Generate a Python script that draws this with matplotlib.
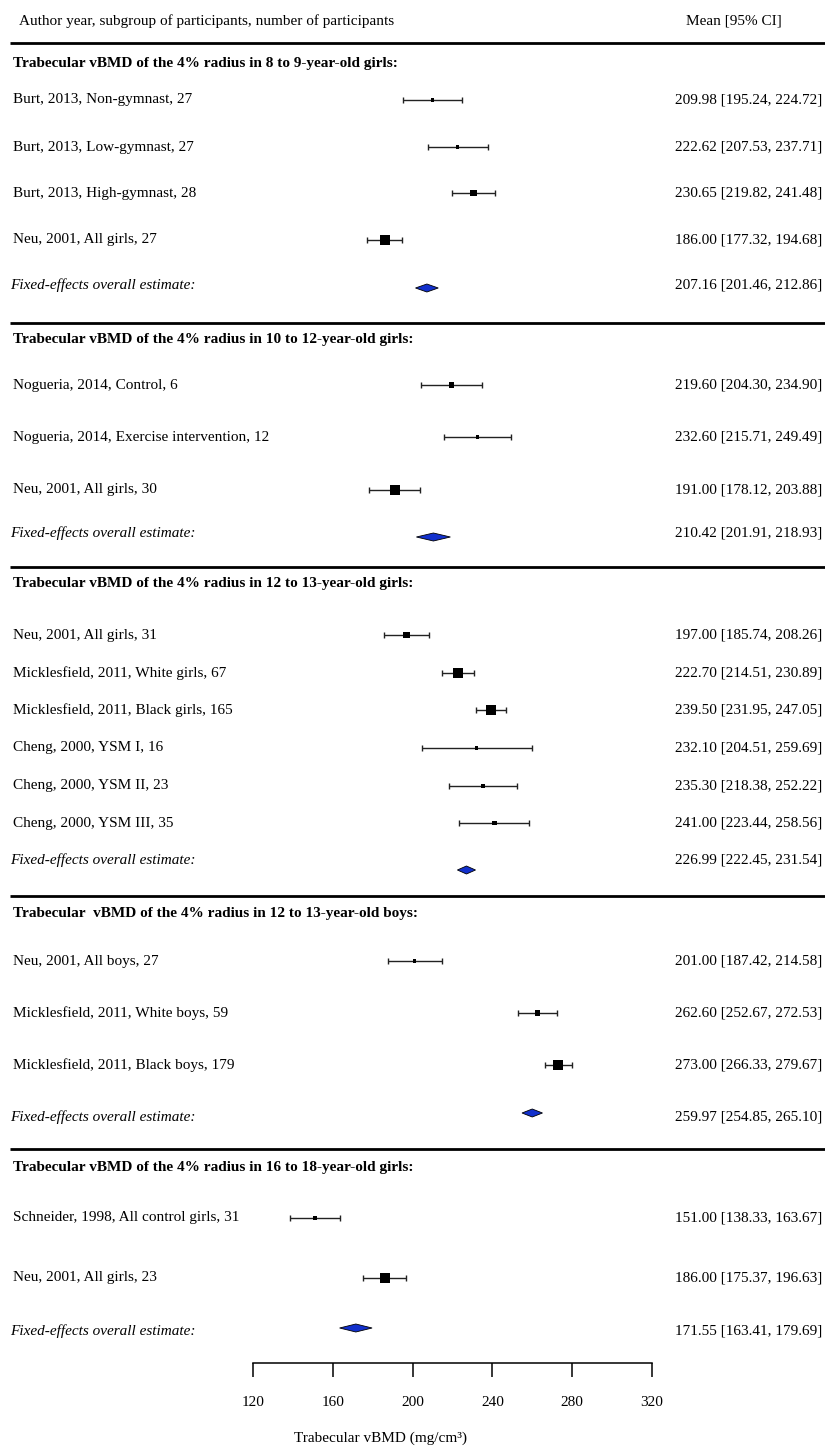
import matplotlib
matplotlib.use("Agg")
import numpy as np
import matplotlib.pyplot as plt
from matplotlib.transforms import blended_transform_factory

plt.rcParams['font.family'] = ['Liberation Serif', 'DejaVu Serif']

# --- data (mean, lower and upper 95% CI, per section) ---
s1_title = "Trabecular vBMD of the 4% radius in 8 to 9-year-old girls:"
s1_labels = ["Burt, 2013, Non-gymnast, 27", "Burt, 2013, Low-gymnast, 27",
             "Burt, 2013, High-gymnast, 28", "Neu, 2001, All girls, 27"]
s1_mean = [209.98, 222.62, 230.65, 186.00]
s1_lower = [195.24, 207.53, 219.82, 177.32]
s1_upper = [224.72, 237.71, 241.48, 194.68]
s1_pooled = [207.16, 201.46, 212.86]

s2_title = "Trabecular vBMD of the 4% radius in 10 to 12-year-old girls:"
s2_labels = ["Nogueria, 2014, Control, 6", "Nogueria, 2014, Exercise intervention, 12",
             "Neu, 2001, All girls, 30"]
s2_mean = [219.60, 232.60, 191.00]
s2_lower = [204.30, 215.71, 178.12]
s2_upper = [234.90, 249.49, 203.88]
s2_pooled = [210.42, 201.91, 218.93]

s3_title = "Trabecular vBMD of the 4% radius in 12 to 13-year-old girls:"
s3_labels = ["Neu, 2001, All girls, 31", "Micklesfield, 2011, White girls, 67",
             "Micklesfield, 2011, Black girls, 165", "Cheng, 2000, YSM I, 16",
             "Cheng, 2000, YSM II, 23", "Cheng, 2000, YSM III, 35"]
s3_mean = [197.00, 222.70, 239.50, 232.10, 235.30, 241.00]
s3_lower = [185.74, 214.51, 231.95, 204.51, 218.38, 223.44]
s3_upper = [208.26, 230.89, 247.05, 259.69, 252.22, 258.56]
s3_pooled = [226.99, 222.45, 231.54]

s4_title = "Trabecular  vBMD of the 4% radius in 12 to 13-year-old boys:"
s4_labels = ["Neu, 2001, All boys, 27", "Micklesfield, 2011, White boys, 59",
             "Micklesfield, 2011, Black boys, 179"]
s4_mean = [201.00, 262.60, 273.00]
s4_lower = [187.42, 252.67, 266.33]
s4_upper = [214.58, 272.53, 279.67]
s4_pooled = [259.97, 254.85, 265.10]

s5_title = "Trabecular vBMD of the 4% radius in 16 to 18-year-old girls:"
s5_labels = ["Schneider, 1998, All control girls, 31", "Neu, 2001, All girls, 23"]
s5_mean = [151.00, 186.00]
s5_lower = [138.33, 175.37]
s5_upper = [163.67, 196.63]
s5_pooled = [171.55, 163.41, 179.69]

x_ticks = [120, 160, 200, 240, 280, 320]

sections = [
    (s1_title, s1_labels, s1_mean, s1_lower, s1_upper, s1_pooled),
    (s2_title, s2_labels, s2_mean, s2_lower, s2_upper, s2_pooled),
    (s3_title, s3_labels, s3_mean, s3_lower, s3_upper, s3_pooled),
    (s4_title, s4_labels, s4_mean, s4_lower, s4_upper, s4_pooled),
    (s5_title, s5_labels, s5_mean, s5_lower, s5_upper, s5_pooled),
]

# layout in pixel rows: title, study rows, summary text, diamond
layout = [
    (63, [100, 147, 193, 240], 285, 288),
    (339, [385, 437, 490], 533, 537),
    (583, [635, 673, 710, 748, 786, 823], 860, 870),
    (914, [961, 1013, 1065], 1117, 1113),
    (1168, [1218, 1278], 1331, 1328),
]
separators = [43, 323, 567, 896, 1149]
FS = 11

W, H = 825, 1447
fig = plt.figure(figsize=(W / 100, H / 100), dpi=100)
ax = fig.add_axes([0, 0, 1, 1])
k = (652 - 253) / (x_ticks[-1] - x_ticks[0])
ax.set_xlim(x_ticks[0] - 253 / k, x_ticks[0] + (W - 253) / k)
ax.set_ylim(H, 0)

tr = blended_transform_factory(ax.transAxes, ax.transData)


def put(xpx, y, s, **kw):
    ax.text(xpx / W, y, s, transform=tr, va='center', fontsize=FS, **kw)


put(19, 21, "Author year, subgroup of participants, number of participants")
put(782, 21, "Mean [95% CI]", ha='right')

for y in separators:
    ax.plot([10 / W, 1], [y, y], transform=tr, color='black', lw=2.0,
            solid_capstyle='butt')

for (title, labels, mean, lower, upper, pooled), (ty, rows, fy, dy) in zip(sections, layout):
    mean = np.array(mean)
    lower = np.array(lower)
    upper = np.array(upper)
    put(13, ty, title, fontweight='bold')
    for lab, m, lo, hi, y in zip(labels, mean, lower, upper, rows):
        put(13, y, lab)
        put(822, y, f"{m:.2f} [{lo:.2f}, {hi:.2f}]", ha='right')
    ax.errorbar(mean, rows, xerr=[mean - lower, upper - mean], fmt='none',
                ecolor='#222222', elinewidth=1.0, capsize=2.5, capthick=1.0)
    # point size from precision, as in metafor (0.5 .. 1.5)
    wi = 1 / ((upper - lower) / 3.92)
    psize = 0.5 + (wi - wi.min()) / (wi.max() - wi.min())
    side = psize / 1.5 * 10 * 0.72
    ax.scatter(mean, rows, s=side ** 2, marker='s', color='black', zorder=3,
               linewidths=0)
    est, plo, phi = pooled
    put(10, fy, "Fixed-effects overall estimate:", style='italic')
    put(822, fy, f"{est:.2f} [{plo:.2f}, {phi:.2f}]", ha='right')
    ax.fill([plo, est, phi, est], [dy, dy - 4, dy, dy + 4],
            facecolor='#1230cc', edgecolor='black', lw=0.6, zorder=3)

# bottom axis
for side_name in ['left', 'right', 'top']:
    ax.spines[side_name].set_visible(False)
ax.spines['bottom'].set_position(('data', 1363))
ax.spines['bottom'].set_bounds(x_ticks[0], x_ticks[-1])
ax.spines['bottom'].set_linewidth(1.1)
ax.set_xticks(x_ticks)
ax.set_xticklabels([str(t) for t in x_ticks])
ax.tick_params(axis='x', direction='out', length=10, width=1.1, pad=14,
               labelsize=FS)
ax.set_yticks([])
ax.text(381 / W, 1438, "Trabecular vBMD (mg/cm³)", transform=tr,
        ha='center', va='center', fontsize=FS)

fig.savefig("out.png", dpi=100)
